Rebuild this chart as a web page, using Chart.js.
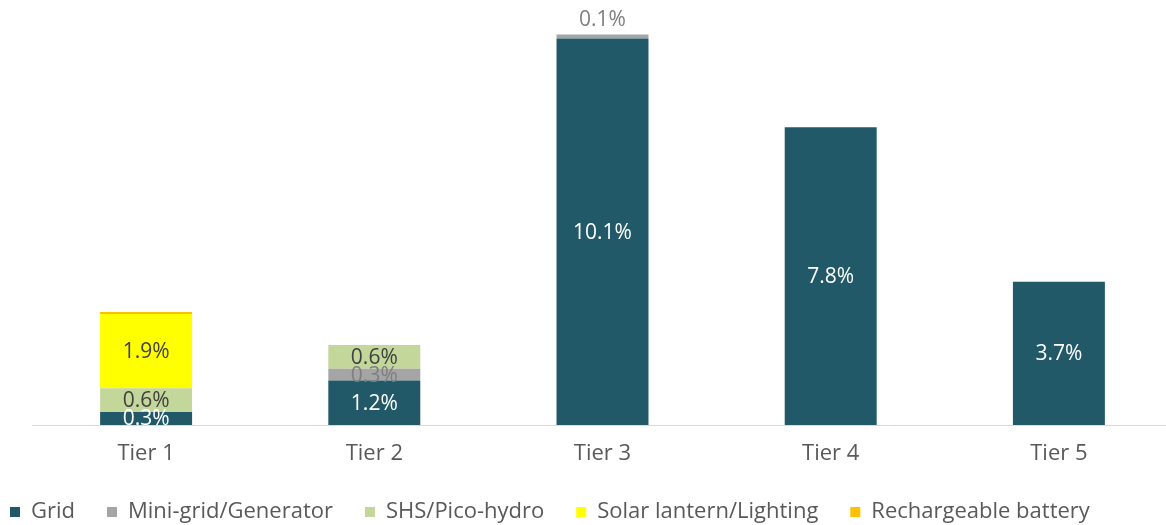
<html>
  <head>
    <script src="https://cdn.jsdelivr.net/npm/chart.js"></script>
    <meta charset="UTF-8" />
    <style>
      html, body { margin: 0; background: #fff; overflow: hidden; }
      /* canvas runs a little past the window so the legend can start near the left edge */
      #wrap { width: 1195px; height: 533px; margin-left: -22px; }
    </style>
  </head>
  <body>
    <div id="wrap"><canvas id="myChart"></canvas></div>
    <script>
      const tiers = ["Tier 1", "Tier 2", "Tier 3", "Tier 4", "Tier 5"];
      const grid = [0.34, 1.16, 10.1, 7.78, 3.74];
      const miniGrid = [0, 0.31, 0.1, 0, 0];
      const shs = [0.62, 0.62, 0, 0, 0];
      const solarLantern = [1.94, 0, 0, 0, 0];
      const battery = [0.05, 0, 0, 0, 0];

      const textGray = "#595959";

      // draws the percentage inside each segment (tiny ones go above the bar)
      const segmentLabels = {
        id: "segmentLabels",
        afterDatasetsDraw(chart) {
          const ctx = chart.ctx;
          const area = chart.chartArea;
          ctx.save();
          ctx.font = "21px 'Open Sans'";
          ctx.textAlign = "center";
          ctx.textBaseline = "middle";
          chart.data.datasets.forEach((ds, i) => {
            if (ds.noLabel) return;
            chart.getDatasetMeta(i).data.forEach((bar, j) => {
              const v = ds.data[j];
              if (!v) return;
              const txt = v.toFixed(1) + "%";
              if (v < 0.2) {
                ctx.fillStyle = "#7f7f7f";
                ctx.fillText(txt, bar.x, bar.y - 15);
                return;
              }
              ctx.save();
              ctx.beginPath();
              ctx.rect(area.left, area.top, area.right - area.left, area.bottom - area.top);
              ctx.clip();
              ctx.fillStyle = ds.labelColor;
              ctx.fillText(txt, bar.x, (bar.y + bar.base) / 2 + 1);
              ctx.restore();
            });
          });
          ctx.restore();
        },
      };

      const data = {
        labels: tiers,
        datasets: [
          { label: "Grid", data: grid, backgroundColor: "#215968", labelColor: "#ffffff" },
          { label: "Mini-grid/Generator", data: miniGrid, backgroundColor: "#a5a5a5", labelColor: "#7f7f7f" },
          { label: "SHS/Pico-hydro", data: shs, backgroundColor: "#c4d79b", labelColor: "#404040" },
          { label: "Solar lantern/Lighting", data: solarLantern, backgroundColor: "#ffff00", labelColor: "#404040" },
          { label: "Rechargeable battery", data: battery, backgroundColor: "#ffc000", noLabel: true },
        ],
      };

      const config = {
        type: "bar",
        data: data,
        plugins: [segmentLabels],
        options: {
          responsive: true,
          maintainAspectRatio: false,
          animation: false,
          datasets: {
            bar: { barPercentage: 0.403, categoryPercentage: 1, borderWidth: 0 },
          },
          layout: { padding: { left: 0, right: 0, top: 4, bottom: 0 } },
          scales: {
            x: {
              stacked: true,
              grid: { display: false },
              border: { color: "#d9d9d9", width: 1 },
              ticks: { color: textGray, font: { family: "Open Sans", size: 22 }, padding: 8 },
              afterFit(axis) {
                axis.height = 44;
              },
            },
            y: {
              stacked: true,
              min: 0,
              max: 11,
              grid: { display: false },
              border: { display: false },
              ticks: { display: false },
              afterFit(axis) {
                axis.width = 54;
              },
            },
          },
          plugins: {
            tooltip: { enabled: false },
            legend: {
              position: "bottom",
              align: "start",
              labels: {
                color: textGray,
                font: { family: "Open Sans", size: 22 },
                boxWidth: 10,
                boxHeight: 10,
                padding: 32,
              },
            },
          },
        },
      };

      new Chart(document.getElementById("myChart"), config);
    </script>
  </body>
</html>
